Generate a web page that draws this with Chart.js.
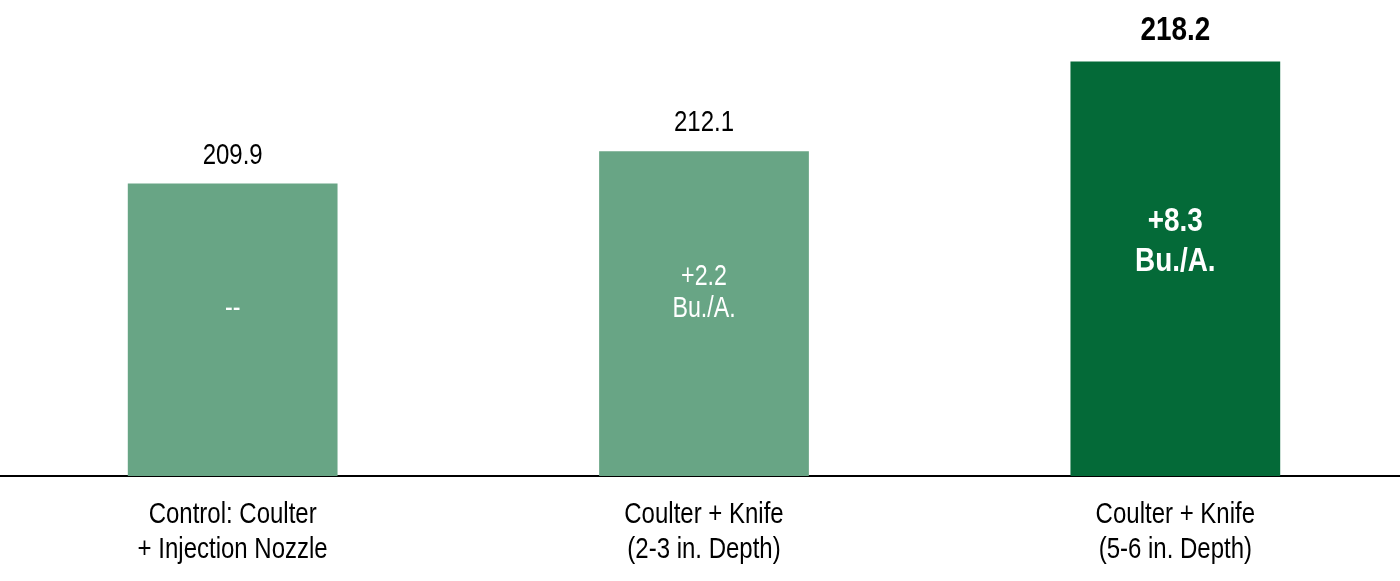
<!DOCTYPE html>
<html>
<head>
<meta charset="utf-8">
<script src="https://cdn.jsdelivr.net/npm/chart.js@4.4.1/dist/chart.umd.min.js"></script>
<style>
  html, body { margin: 0; padding: 0; background: #fff; overflow: hidden; }
  #wrap { position: absolute; left: -3px; top: 0; width: 1414px; height: 581px; }
</style>
</head>
<body>
<div id="wrap"><canvas id="chart"></canvas></div>
<script>
// Yield by application method
const categories = [
  ['Control: Coulter', '+ Injection Nozzle'],
  ['Coulter + Knife', '(2-3 in. Depth)'],
  ['Coulter + Knife', '(5-6 in. Depth)'],
];
const yieldValues = [209.9, 212.1, 218.2];
const gainLabels = [['--'], ['+2.2', 'Bu./A.'], ['+8.3', 'Bu./A.']];
const highlight = [false, false, true];

const FONT = '"Liberation Sans", Arial, sans-serif';
const LIGHT = '#68a585';
const DARK = '#046a38';

// narrow-looking text: squeeze horizontally, y is the cap-height centre
function narrowText(ctx, text, x, y, size, bold, color) {
  ctx.save();
  ctx.font = (bold ? 'bold ' : '') + size + 'px ' + FONT;
  ctx.fillStyle = color;
  ctx.textAlign = 'center';
  ctx.textBaseline = 'alphabetic';
  ctx.translate(x, y + size * 0.358);
  ctx.scale(bold ? 0.82 : 0.8, 1);
  ctx.fillText(text, 0, 0);
  ctx.restore();
}

const barText = {
  id: 'barText',
  afterDraw(chart) {
    const { ctx, chartArea } = chart;
    const xs = chart.scales.x;
    const meta = chart.getDatasetMeta(0);
    meta.data.forEach((bar, i) => {
      const bold = highlight[i];
      const size = bold ? 34 : 30;
      // value above the bar
      narrowText(ctx, yieldValues[i].toFixed(1), bar.x, bar.y - (bold ? 33.5 : 30.5), size, bold, '#000');

      // gain inside the bar
      const lines = gainLabels[i];
      const mid = (bar.y + chartArea.bottom) / 2 - (bold ? 30 : 23);
      const lh = bold ? 40 : 32;
      lines.forEach((t, j) => {
        narrowText(ctx, t, bar.x, mid + (j - (lines.length - 1) / 2) * lh, bold ? 34 : 29, bold, '#fff');
      });

      // category label
      categories[i].forEach((t, j) => {
        narrowText(ctx, t, xs.getPixelForTick(i), chartArea.bottom + 36 + j * 35, 30, false, '#000');
      });
    });
  }
};

new Chart(document.getElementById('chart'), {
  type: 'bar',
  data: {
    labels: categories,
    datasets: [{
      data: yieldValues,
      backgroundColor: highlight.map(h => h ? DARK : LIGHT),
      borderWidth: 0,
      categoryPercentage: 1,
      barPercentage: 0.445,
    }],
  },
  options: {
    responsive: true,
    maintainAspectRatio: false,
    animation: false,
    layout: { padding: { top: 35, bottom: 105, left: 0, right: 0 } },
    scales: {
      x: {
        grid: { display: false, drawTicks: false },
        border: { display: true, color: '#000', width: 2 },
        ticks: { display: false },
      },
      y: {
        display: false,
        min: 190,
        max: 220,
      },
    },
    plugins: {
      legend: { display: false },
      tooltip: { enabled: false },
    },
  },
  plugins: [barText],
});
</script>
</body>
</html>
